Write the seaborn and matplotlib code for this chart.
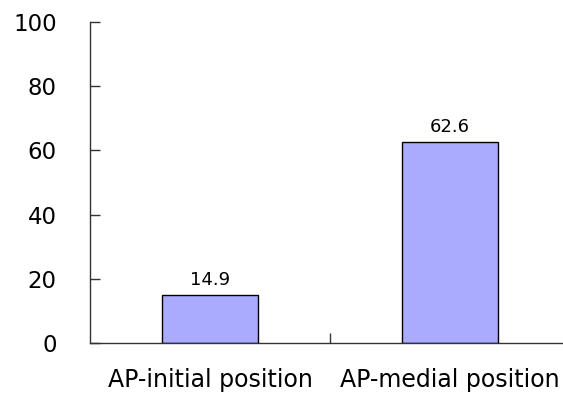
import seaborn as sns
import matplotlib.pyplot as plt
import pandas as pd

# Data
categories = ['AP-initial position', 'AP-medial position']
values = [14.9, 62.6]

sns.set_style('white')
plt.rcParams['font.family'] = ['DejaVu Sans']
plt.rcParams['text.color'] = 'black'
plt.rcParams['xtick.labelcolor'] = 'black'
plt.rcParams['ytick.labelcolor'] = 'black'

df = pd.DataFrame({'category': categories, 'value': values})

fig = plt.figure(figsize=(5.63, 3.98), dpi=100)
ax = fig.add_axes([90 / 563, 1 - 343 / 398, 480 / 563, 321 / 398])

sns.barplot(data=df, x='category', y='value', color='#AAAAFF', saturation=1,
            width=0.4, edgecolor='black', linewidth=1, ax=ax)

for i, v in enumerate(values):
    ax.text(i, v + 1.8, f'{v:.1f}', ha='center', va='bottom', fontsize=13)

ax.set_xlim(-0.5, 1.5)
ax.set_ylim(0, 100)
ax.set_yticks(range(0, 101, 20))
ax.set_xlabel('')
ax.set_ylabel('')

for side in ['top', 'right']:
    ax.spines[side].set_visible(False)
for side in ['left', 'bottom']:
    ax.spines[side].set_color('#333333')
    ax.spines[side].set_linewidth(1)

ax.tick_params(axis='y', direction='in', length=7, width=1, color='#333333',
               labelsize=16.5, pad=24, left=True)
ax.tick_params(axis='x', which='major', length=0, labelsize=17, pad=18)
ax.set_xticks([0.5], minor=True)
ax.tick_params(axis='x', which='minor', direction='in', length=7, width=1,
               color='#333333', bottom=True)

fig.savefig('out.png', dpi=100)
